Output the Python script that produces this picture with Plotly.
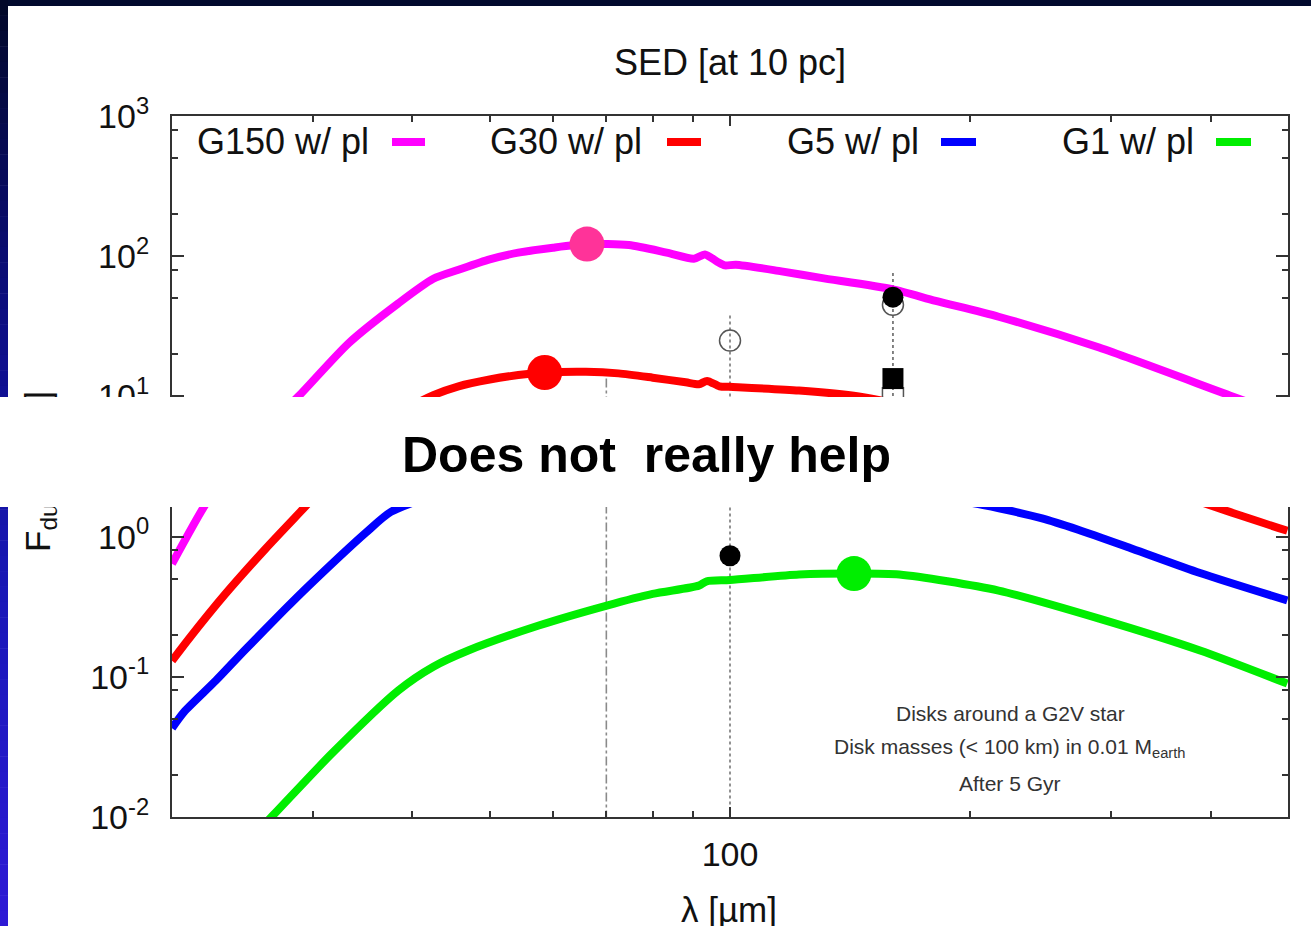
import plotly.graph_objects as go

# ---------------- model SEDs: wavelength [um] vs dust flux [mJy] ----------------
wl_g150 = [20, 21.9, 24, 26.5, 28.8, 33.3, 38.4, 42.5, 45.7, 50, 54.3, 60, 66.2, 74.7, 83.3,
           90.1, 93.0, 96.5, 98.5, 101.7, 116, 130, 160, 181, 217, 290, 426, 500]
f_g150 = [0.64, 1.61, 3.5, 6.3, 10, 24, 46, 69, 80, 95, 106, 115, 122, 120, 106,
          96, 103, 91, 86, 87, 78, 70, 58, 48, 37, 22.3, 10, 7.2]

wl_g30 = [20, 21, 23.3, 26.2, 29.3, 33, 37, 40.1, 42.5, 45.7, 50, 54.3, 58.6, 66, 72.5,
          80, 88, 91.4, 93.6, 97, 100, 122, 145, 160, 217, 290, 407, 499]
f_g30 = [0.13, 0.187, 0.387, 0.82, 1.61, 3.3, 6.0, 8.6, 10.2, 11.8, 13.2, 14.2, 14.8, 15.0, 14.6,
         13.6, 12.6, 12.2, 12.9, 11.8, 11.7, 11.0, 10.0, 9.0, 5.8, 3.2, 1.61, 1.10]

wl_g5 = [20, 20.7, 22.7, 24.7, 27.7, 29.6, 35.0, 37.6, 42.5, 46, 54, 62, 72, 86, 91.4,
         93.6, 97, 100, 122, 160, 200, 246, 273, 319, 388, 499]
f_g5 = [0.043, 0.056, 0.094, 0.156, 0.303, 0.44, 1.07, 1.5, 1.95, 2.12, 2.35, 2.5, 2.55, 2.45, 2.35,
        2.45, 2.3, 2.3, 2.25, 2.05, 1.75, 1.35, 1.12, 0.82, 0.55, 0.35]

wl_g1 = [25, 26.6, 31.7, 38.4, 42.5, 47.0, 57.6, 70.1, 80, 91.4, 93.5, 100, 122, 143, 163,
         217, 290, 388, 499]
f_g1 = [0.0069, 0.0099, 0.0283, 0.0797, 0.118, 0.154, 0.232, 0.322, 0.39, 0.447, 0.48, 0.49, 0.536,
        0.545, 0.536, 0.412, 0.26, 0.154, 0.0894]

series_names = ["G150 w/ pl", "G30 w/ pl", "G5 w/ pl", "G1 w/ pl"]
series_colors = ["#ff00ff", "#ff0000", "#0000ff", "#00ee00"]

# peak markers of three of the models
peak_wl = [66.2, 58.6, 143]
peak_f = [122, 14.8, 0.545]
peak_colors = ["#ff3399", "#ff0000", "#00ee00"]

# observed photometry
obs_open_circle_wl = [100, 160]
obs_open_circle_f = [25, 45]
obs_filled_circle_wl = [100, 160]
obs_filled_circle_f = [0.73, 51]
obs_filled_square_wl = [160]
obs_filled_square_f = [13.4]
obs_open_square_wl = [160]
obs_open_square_f = [9.7]

# vertical bars at the photometric bands
bar_wl = [70, 100, 160]
bar_top = [13.4, 37.8, 76]
bar_bottom = [0.005, 0.005, 8]
bar_dash = ["dashdot", "dot", "dot"]
bar_color = ["#8a8a8a", "#777777", "#666666"]

x_major = [100]
x_major_text = ["100"]
x_minor = [30, 40, 50, 60, 70, 80, 90, 200, 300, 400]
y_major = [0.01, 0.1, 1, 10, 100, 1000]
y_major_text = ["10<sup>-2</sup>", "10<sup>-1</sup>", "10<sup>0</sup>",
                "10<sup>1</sup>", "10<sup>2</sup>", "10<sup>3</sup>"]
y_minor = [m * 10.0 ** e for e in range(-2, 3) for m in (2, 5, 8)]

info_lines = ["Disks around a G2V star",
              "Disk masses (< 100 km) in 0.01 M<sub>earth</sub>",
              "After 5 Gyr"]

# ---------------- geometry ----------------
W, H = 1311, 926
L, R, T, B = 172, 1288, 116, 817
FONT = "Liberation Sans, Arial, sans-serif"


def fx(p):
    return (p - L) / (R - L)


def fy(p):
    return (B - p) / (B - T)


fig = go.Figure()

for wl, lo, hi, dash, col in zip(bar_wl, bar_bottom, bar_top, bar_dash, bar_color):
    fig.add_trace(go.Scatter(x=[wl, wl], y=[hi, lo], mode="lines",
                             line=dict(color=col, width=1.6, dash=dash),
                             hoverinfo="skip", showlegend=False))

for wl, f, col, name in zip([wl_g150, wl_g30, wl_g5, wl_g1], [f_g150, f_g30, f_g5, f_g1],
                            series_colors, series_names):
    fig.add_trace(go.Scatter(x=wl, y=f, mode="lines", name=name,
                             line=dict(color=col, width=8, shape="spline", smoothing=0.7),
                             showlegend=False))

fig.add_trace(go.Scatter(x=obs_open_square_wl, y=obs_open_square_f, mode="markers",
                         marker=dict(symbol="square-open", size=21, color="#555555",
                                     line=dict(width=1.5)), showlegend=False))
fig.add_trace(go.Scatter(x=obs_open_circle_wl, y=obs_open_circle_f, mode="markers",
                         marker=dict(symbol="circle-open", size=21, color="#555555",
                                     line=dict(width=1.5)), showlegend=False))
fig.add_trace(go.Scatter(x=obs_filled_circle_wl, y=obs_filled_circle_f, mode="markers",
                         marker=dict(symbol="circle", size=21, color="#000000"), showlegend=False))
fig.add_trace(go.Scatter(x=obs_filled_square_wl, y=obs_filled_square_f, mode="markers",
                         marker=dict(symbol="square", size=21, color="#000000"), showlegend=False))

fig.add_trace(go.Scatter(x=peak_wl, y=peak_f, mode="markers",
                         marker=dict(symbol="circle", size=35, color=peak_colors),
                         showlegend=False))

shapes = []
# slide frame: dark strip along the top, gradient strip down the left edge
shapes.append(dict(type="rect", xref="paper", yref="paper", x0=fx(0), x1=fx(W), y0=fy(6), y1=fy(0),
                   fillcolor="#020a2e", line=dict(width=0), layer="below"))
stops = [(0, (2, 8, 40)), (250, (10, 12, 112)), (400, (16, 16, 150)), (600, (26, 24, 184)),
         (926, (46, 26, 214))]
n = 60
for i in range(n):
    y0p = i * H / n
    y1p = (i + 1) * H / n
    ym = (y0p + y1p) / 2
    for (a, ca), (b, cb) in zip(stops[:-1], stops[1:]):
        if a <= ym <= b:
            t = (ym - a) / (b - a)
            c = tuple(int(round(ca[k] + t * (cb[k] - ca[k]))) for k in range(3))
            break
    shapes.append(dict(type="rect", xref="paper", yref="paper", x0=fx(0), x1=fx(8),
                       y0=fy(y1p + 0.5), y1=fy(y0p), fillcolor="rgb(%d,%d,%d)" % c,
                       line=dict(width=0), layer="below"))

# key samples
sample_x = [(392, 425), (667, 701), (941, 976), (1216, 1251)]
for (a, b), col in zip(sample_x, series_colors):
    shapes.append(dict(type="line", xref="paper", yref="paper", x0=fx(a), x1=fx(b),
                       y0=fy(142), y1=fy(142), line=dict(color=col, width=8)))


def note(text, x, y, size, color="#111111", xanchor="center", **kw):
    return dict(text=text, xref="paper", yref="paper", x=fx(x), y=fy(y), xanchor=xanchor,
                yanchor="middle", showarrow=False,
                font=dict(family=FONT, size=size, color=color), **kw)


annotations = [note("SED [at 10 pc]", 730, 62, 36)]
key_right = [371, 644, 921, 1196]
for name, xr in zip(series_names, key_right):
    annotations.append(note(name, xr, 142, 36, xanchor="right"))
for txt, yy in zip(info_lines, [713, 748, 783]):
    annotations.append(note(txt, 1010, yy, 21, color="#333333"))
annotations.append(note("λ [µm]", 729, 909, 35))
annotations.append(note("F<sub>dust</sub> [mJy]", 40, 472, 35, textangle=-90))
# white caption band across the slide
annotations.append(dict(text="\u00a0", xref="paper", yref="paper", x=fx(0), y=fy(507),
                        xanchor="left", yanchor="bottom", width=W, height=110,
                        bgcolor="#ffffff", borderpad=0, borderwidth=0, showarrow=False,
                        font=dict(size=10)))
annotations.append(note("<b>Does not\u00a0 really help</b>", 646, 455, 50, color="#000000"))

axis_common = dict(type="log", showgrid=False, zeroline=False, showline=True, linecolor="#333333",
                   linewidth=2, mirror="ticks", ticks="inside", tickcolor="#333333",
                   tickwidth=1.5, tickmode="array",
                   tickfont=dict(family=FONT, size=34, color="#111111"))

fig.update_layout(
    width=W, height=H,
    margin=dict(l=L, r=W - R, t=T, b=H - B, pad=0),
    paper_bgcolor="#ffffff", plot_bgcolor="#ffffff",
    xaxis=dict(axis_common, range=[1.30103, 2.69897], tickvals=x_major, ticktext=x_major_text,
               ticklen=10, ticklabelstandoff=6,
               minor=dict(tickmode="array", tickvals=x_minor, ticks="inside", ticklen=6,
                          tickcolor="#333333", tickwidth=1.5)),
    yaxis=dict(axis_common, range=[-2, 3], tickvals=y_major, ticktext=y_major_text,
               ticklen=12, ticklabelstandoff=14,
               minor=dict(tickmode="array", tickvals=y_minor, ticks="inside", ticklen=6,
                          tickcolor="#333333", tickwidth=1.5)),
    shapes=shapes, annotations=annotations, showlegend=False,
)

fig.write_html("out.html")
